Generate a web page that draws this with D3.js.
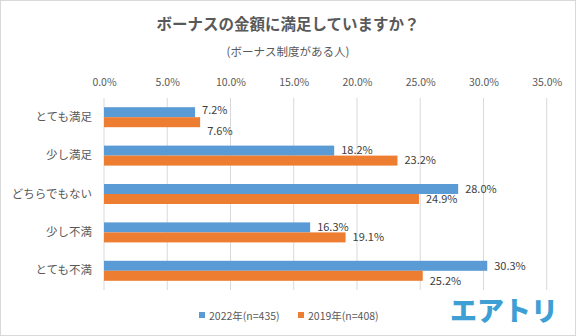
<!DOCTYPE html>
<html>
<head>
<meta charset="utf-8">
<script src="https://cdn.jsdelivr.net/npm/d3@7"></script>
<style>
  body { margin: 0; background: #fff; }
  svg { display: block; font-family: "Noto Sans CJK JP", "Noto Sans", sans-serif; }
</style>
</head>
<body>
<div id="chart"></div>
<script>
// survey answers, top to bottom
var categories = ["とても満足", "少し満足", "どちらでもない", "少し不満", "とても不満"];
var seriesNames = ["2022年(n=435)", "2019年(n=408)"];
var values2022 = [7.2, 18.2, 28.0, 16.3, 30.3];
var values2019 = [7.6, 23.2, 24.9, 19.1, 25.2];
var tickValues = [0, 5, 10, 15, 20, 25, 30, 35];

var colors = ["#5b9bd5", "#ed7d31"];
var width = 576, height = 336;

var svg = d3.select("#chart").append("svg")
    .attr("width", width)
    .attr("height", height);

// outer frame
svg.append("rect")
    .attr("x", 0.5).attr("y", 0.5)
    .attr("width", width - 1).attr("height", height - 1)
    .attr("fill", "#fff")
    .attr("stroke", "#d9d9d9");

svg.append("text")
    .attr("x", 288).attr("y", 25)
    .attr("dy", "0.35em")
    .attr("text-anchor", "middle")
    .attr("font-size", 15.5)
    .attr("font-weight", "bold")
    .attr("fill", "#595959")
    .text("ボーナスの金額に満足していますか？");

svg.append("text")
    .attr("x", 288).attr("y", 52)
    .attr("dy", "0.35em")
    .attr("text-anchor", "middle")
    .attr("font-size", 11.5)
    .attr("fill", "#595959")
    .text("(ボーナス制度がある人)");

var x = d3.scaleLinear().domain([0, 35]).range([104, 546.7]);
var y = d3.scaleBand().domain(categories).range([98, 290]);
var barH = 10;

// grid lines
svg.append("g")
    .selectAll("line")
    .data(tickValues)
    .enter().append("line")
    .attr("x1", d => x(d)).attr("x2", d => x(d))
    .attr("y1", 98).attr("y2", 290)
    .attr("stroke", "#d9d9d9")
    .attr("stroke-width", 1);

// top axis labels
var xAxis = d3.axisTop(x)
    .tickValues(tickValues)
    .tickSize(0)
    .tickPadding(0)
    .tickFormat(d => d.toFixed(1) + "%");

var axisG = svg.append("g")
    .attr("transform", "translate(0,86)")
    .call(xAxis);
axisG.select(".domain").remove();
axisG.selectAll("text")
    .attr("font-size", 10.5)
    .attr("font-family", "\"Noto Sans CJK JP\", sans-serif")
    .attr("fill", "#595959");

// category labels
var yAxis = d3.axisLeft(y).tickSize(0).tickPadding(0);
var yG = svg.append("g")
    .attr("transform", "translate(92,0)")
    .call(yAxis);
yG.select(".domain").remove();
yG.selectAll("text")
    .attr("font-size", 11.5)
    .attr("font-family", "\"Noto Sans CJK JP\", sans-serif")
    .attr("fill", "#595959");

var series = [values2022, values2019];
// small vertical nudges so the first row's labels don't collide
var labelNudge = [[-2, 9], [0, 0], [0, 0], [0, 0], [0, 5]];

series.forEach(function(vals, si) {
    var g = svg.append("g");
    g.selectAll("rect")
        .data(vals)
        .enter().append("rect")
        .attr("x", x(0))
        .attr("y", (d, i) => y(categories[i]) + y.bandwidth() / 2 - barH + si * barH)
        .attr("width", d => x(d) - x(0))
        .attr("height", barH)
        .attr("fill", colors[si]);

    g.selectAll("text")
        .data(vals)
        .enter().append("text")
        .attr("x", d => x(d) + 7)
        .attr("y", (d, i) => y(categories[i]) + y.bandwidth() / 2 - barH / 2 + si * barH + labelNudge[i][si])
        .attr("dy", "0.35em")
        .attr("font-size", 11)
        .attr("fill", "#404040")
        .text(d => d.toFixed(1) + "%");
});

// legend
var legendX = [199, 298];
seriesNames.forEach(function(name, i) {
    svg.append("rect")
        .attr("x", legendX[i]).attr("y", 312)
        .attr("width", 6).attr("height", 6)
        .attr("fill", colors[i]);
    svg.append("text")
        .attr("x", legendX[i] + 10).attr("y", 316)
        .attr("dy", "0.35em")
        .attr("font-size", 10.5)
        .attr("fill", "#595959")
        .text(name);
});

// brand mark
svg.append("text")
    .attr("x", 504).attr("y", 312)
    .attr("dy", "0.35em")
    .attr("text-anchor", "middle")
    .attr("font-size", 27)
    .attr("font-weight", 900)
    .attr("fill", "#3e9fd4")
    .text("エアトリ");
</script>
</body>
</html>
